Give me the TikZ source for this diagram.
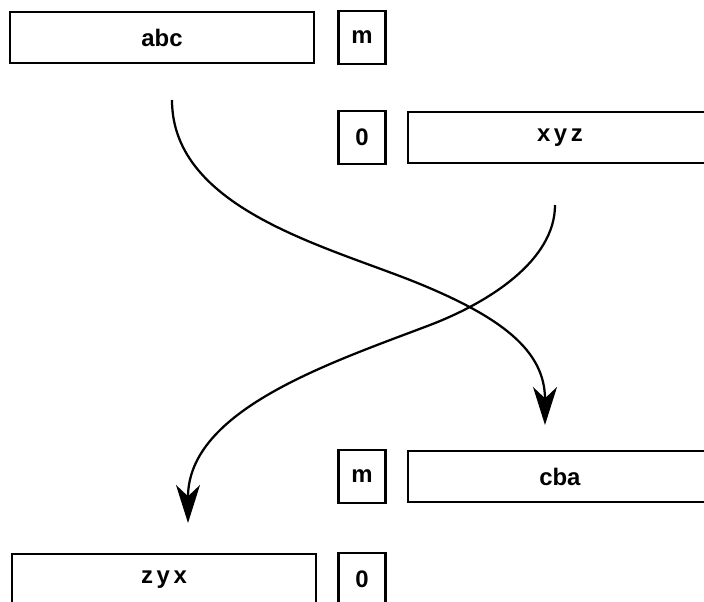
\documentclass[tikz,border=0pt]{standalone}
\usepackage{fontspec}
\setmainfont{Liberation Sans}
\newfontfamily\spaced[LetterSpace=15]{Liberation Sans}
\usetikzlibrary{arrows.meta, positioning}

\begin{document}
\begin{tikzpicture}[x=0.025cm, y=-0.025cm, node distance=0.5cm,
    cadena/.style={draw, rectangle, line width=1.8pt, minimum width=7.6cm, minimum height=1.28cm, inner sep=0pt, font=\fontsize{17}{19}\selectfont\bfseries},
    longitud/.style={draw, rectangle, line width=1.6pt, minimum width=1.175cm, minimum height=1.32cm, inner sep=0pt, font=\fontsize{17}{19}\selectfont\bfseries},
    flecha/.style={line width=1.6pt, -{Stealth[length=27pt, width=17pt, inset=8pt]}}]
    \useasboundingbox (0,0) rectangle (704,601);

    % Cadenas y longitudes
    \node (abc) [cadena] at (162,37.5) {abc};
    \node (m1) [longitud, right=0.55cm of abc] {m};
    \node (cero1) [longitud, below=1.12cm of m1] {\spaced 0};
    \node (xyz) [cadena, right=of cero1] {\spaced xyz};
    \node (m2) [longitud, below=7.1cm of cero1] {m};
    \node (cba) [cadena, right=of m2] {cba};
    \node (cero2) [longitud, below=1.2cm of m2] {\spaced 0};
    \node (zyx) [cadena, left=0.5cm of cero2] {\spaced zyx};

    % Extremos de las flechas
    \coordinate (s1) at (172,100);
    \coordinate (e1) at (545,425);
    \coordinate (s2) at (555,205);
    \coordinate (e2) at (188,523);

    % Flechas cruzadas
    \draw[flecha] (s1) .. controls (172,210) and (330,247) .. (420,284)
        .. controls (500,317) and (545,350) .. (e1);
    \draw[flecha] (s2) .. controls (555,260) and (490,302) .. (430,325)
        .. controls (330,363) and (188,410) .. (e2);
\end{tikzpicture}
\end{document}
